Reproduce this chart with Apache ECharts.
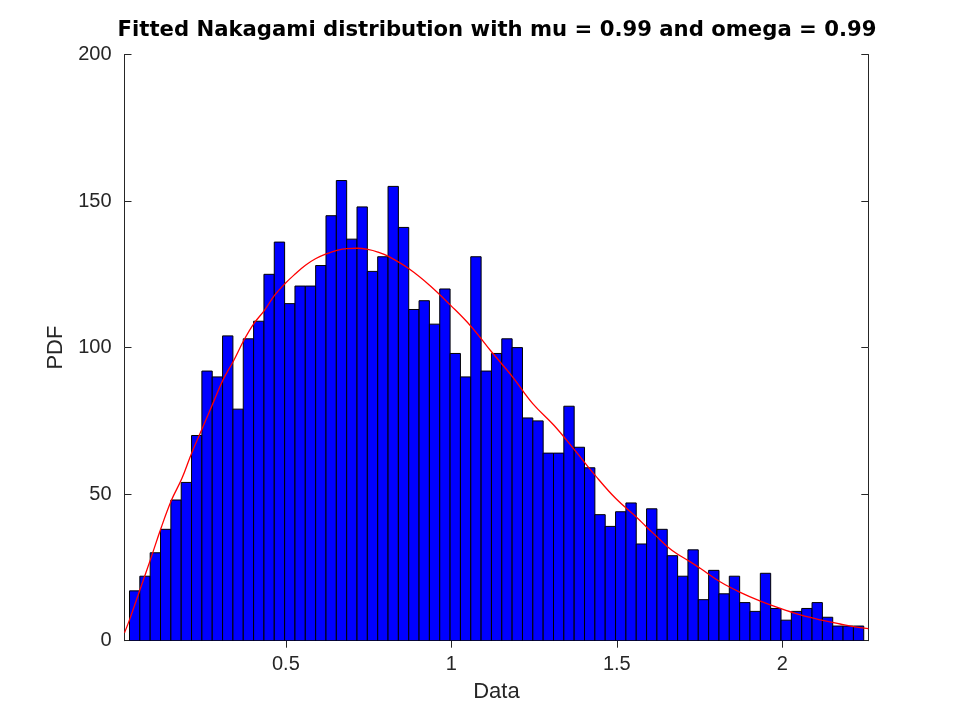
<!DOCTYPE html>
<html lang="en">
<head>
    <meta charset="UTF-8">
    <title>nakagami-fit</title>
    <script src="https://cdn.jsdelivr.net/npm/echarts@6.0.0/dist/echarts.min.js"></script>
    <style>
        html, body { margin: 0; padding: 0; background: #fff; }
    </style>
</head>
<body>
    <div id="main" style="width: 960px;height:720px;"></div>

    <script>
        // histogram: first bin edge, bin width, counts per bin
        var binStart = 0.0275;
        var binWidth = 0.03125;
        var counts = [
            17, 22, 30, 38, 48, 54, 70, 92, 90, 104,
            79, 103, 109, 125, 136, 115, 121, 121, 128, 145,
            157, 137, 148, 126, 131, 155, 141, 113, 116, 108,
            120, 98, 90, 131, 92, 98, 103, 100, 76, 75,
            64, 64, 80, 66, 59, 43, 39, 44, 47, 33,
            45, 38, 29, 22, 31, 14, 24, 16, 22, 13,
            10, 23, 11, 7, 10, 11, 13, 8, 5, 5,
            5
        ];

        // fitted curve
        var curveX = [
            0.0124, 0.0275, 0.0607, 0.0921, 0.1224, 0.1545, 0.1857, 0.2149, 0.2492, 0.2794,
            0.3097, 0.3429, 0.3731, 0.4033, 0.4353, 0.4656, 0.497, 0.529, 0.5592, 0.5894,
            0.6227, 0.6541, 0.6843, 0.7163, 0.7477, 0.7779, 0.810, 0.872, 0.935, 0.998,
            1.059, 1.122, 1.185, 1.246, 1.310, 1.373, 1.434, 1.497, 1.558, 1.589,
            1.621, 1.654, 1.684, 1.714, 1.752, 1.812, 1.873, 1.934, 1.994, 2.055,
            2.115, 2.175, 2.215, 2.26
        ];
        var curveY = [
            2.7, 7.1, 17.9, 28.1, 38.3, 48.0, 55.3, 63.9, 72.9, 80.9,
            88.9, 95.7, 102.5, 108.2, 112.7, 117.8, 121.8, 125.2, 128.1, 130.3,
            132.0, 133.2, 133.8, 133.9, 133.5, 132.6, 131.1, 126.9, 121.2, 114.4,
            107.3, 98.5, 90.0, 80.9, 73.5, 65.0, 56.5, 48.5, 42.3, 38.9,
            35.5, 32.0, 29.5, 27.5, 24.7, 20.1, 16.5, 13.5, 11.0, 8.8,
            7.1, 5.7, 4.8, 4.1
        ];

        var xTicks = [0.5, 1, 1.5, 2];
        var xMin = 0.0124, xMax = 2.26;

        var histData = counts.map(function (c, i) {
            return [binStart + i * binWidth, binStart + (i + 1) * binWidth, c];
        });
        var curveData = curveX.map(function (x, i) { return [x, curveY[i]]; });

        var textColor = '#262626';
        var font = 'Liberation Sans, Arial, Helvetica, sans-serif';

        var myChart = echarts.init(document.getElementById('main'));

        var option = {
            animation: false,
            backgroundColor: '#fff',
            title: {
                text: 'Fitted Nakagami distribution with mu = 0.99 and omega = 0.99',
                left: 492,
                top: 15,
                textAlign: 'center',
                textStyle: {
                    fontFamily: 'DejaVu Sans, sans-serif',
                    fontSize: 21.2,
                    fontWeight: 'bold',
                    color: '#000'
                }
            },
            grid: {
                left: 124.5,
                right: 91.7,
                top: 54.5,
                bottom: 79.3,
                containLabel: false
            },
            xAxis: [
                {
                    type: 'value',
                    min: xMin,
                    max: xMax,
                    name: 'Data',
                    nameLocation: 'middle',
                    nameGap: 40,
                    nameTextStyle: { fontFamily: font, fontSize: 22, color: textColor },
                    axisLine: { lineStyle: { color: textColor, width: 1 } },
                    axisTick: { inside: true, length: 7, customValues: xTicks, lineStyle: { color: textColor } },
                    axisLabel: { customValues: xTicks, margin: 14, fontFamily: font, fontSize: 20, color: textColor },
                    splitLine: { show: false }
                },
                {
                    type: 'value',
                    position: 'top',
                    min: xMin,
                    max: xMax,
                    axisLine: { lineStyle: { color: textColor, width: 1 } },
                    axisTick: { inside: true, length: 7, customValues: xTicks, lineStyle: { color: textColor } },
                    axisLabel: { show: false },
                    splitLine: { show: false }
                }
            ],
            yAxis: [
                {
                    type: 'value',
                    min: 0,
                    max: 200,
                    interval: 50,
                    name: 'PDF',
                    nameLocation: 'middle',
                    nameGap: 46,
                    nameTextStyle: { fontFamily: font, fontSize: 22, color: textColor },
                    axisLine: { show: true, lineStyle: { color: textColor, width: 1 } },
                    axisTick: { show: true, inside: true, length: 7, lineStyle: { color: textColor } },
                    axisLabel: { margin: 13, fontFamily: font, fontSize: 20, color: textColor },
                    splitLine: { show: false }
                },
                {
                    type: 'value',
                    position: 'right',
                    min: 0,
                    max: 200,
                    interval: 50,
                    axisLine: { show: true, lineStyle: { color: textColor, width: 1 } },
                    axisTick: { show: true, inside: true, length: 7, lineStyle: { color: textColor } },
                    axisLabel: { show: false },
                    splitLine: { show: false }
                }
            ],
            series: [
                {
                    type: 'custom',
                    name: 'hist',
                    xAxisIndex: 0,
                    yAxisIndex: 0,
                    clip: true,
                    data: histData,
                    encode: { x: [0, 1], y: 2 },
                    renderItem: function (params, api) {
                        var p0 = api.coord([api.value(0), api.value(2)]);
                        var p1 = api.coord([api.value(1), 0]);
                        return {
                            type: 'rect',
                            shape: { x: p0[0], y: p0[1], width: p1[0] - p0[0], height: p1[1] - p0[1] },
                            style: { fill: '#0000ff', stroke: '#000', lineWidth: 1 }
                        };
                    }
                },
                {
                    type: 'line',
                    name: 'fit',
                    xAxisIndex: 0,
                    yAxisIndex: 0,
                    data: curveData,
                    smooth: 0.4,
                    showSymbol: false,
                    symbol: 'none',
                    lineStyle: { color: '#ff0000', width: 1.3 },
                    z: 5
                }
            ]
        };

        myChart.setOption(option);
    </script>
</body>
</html>
